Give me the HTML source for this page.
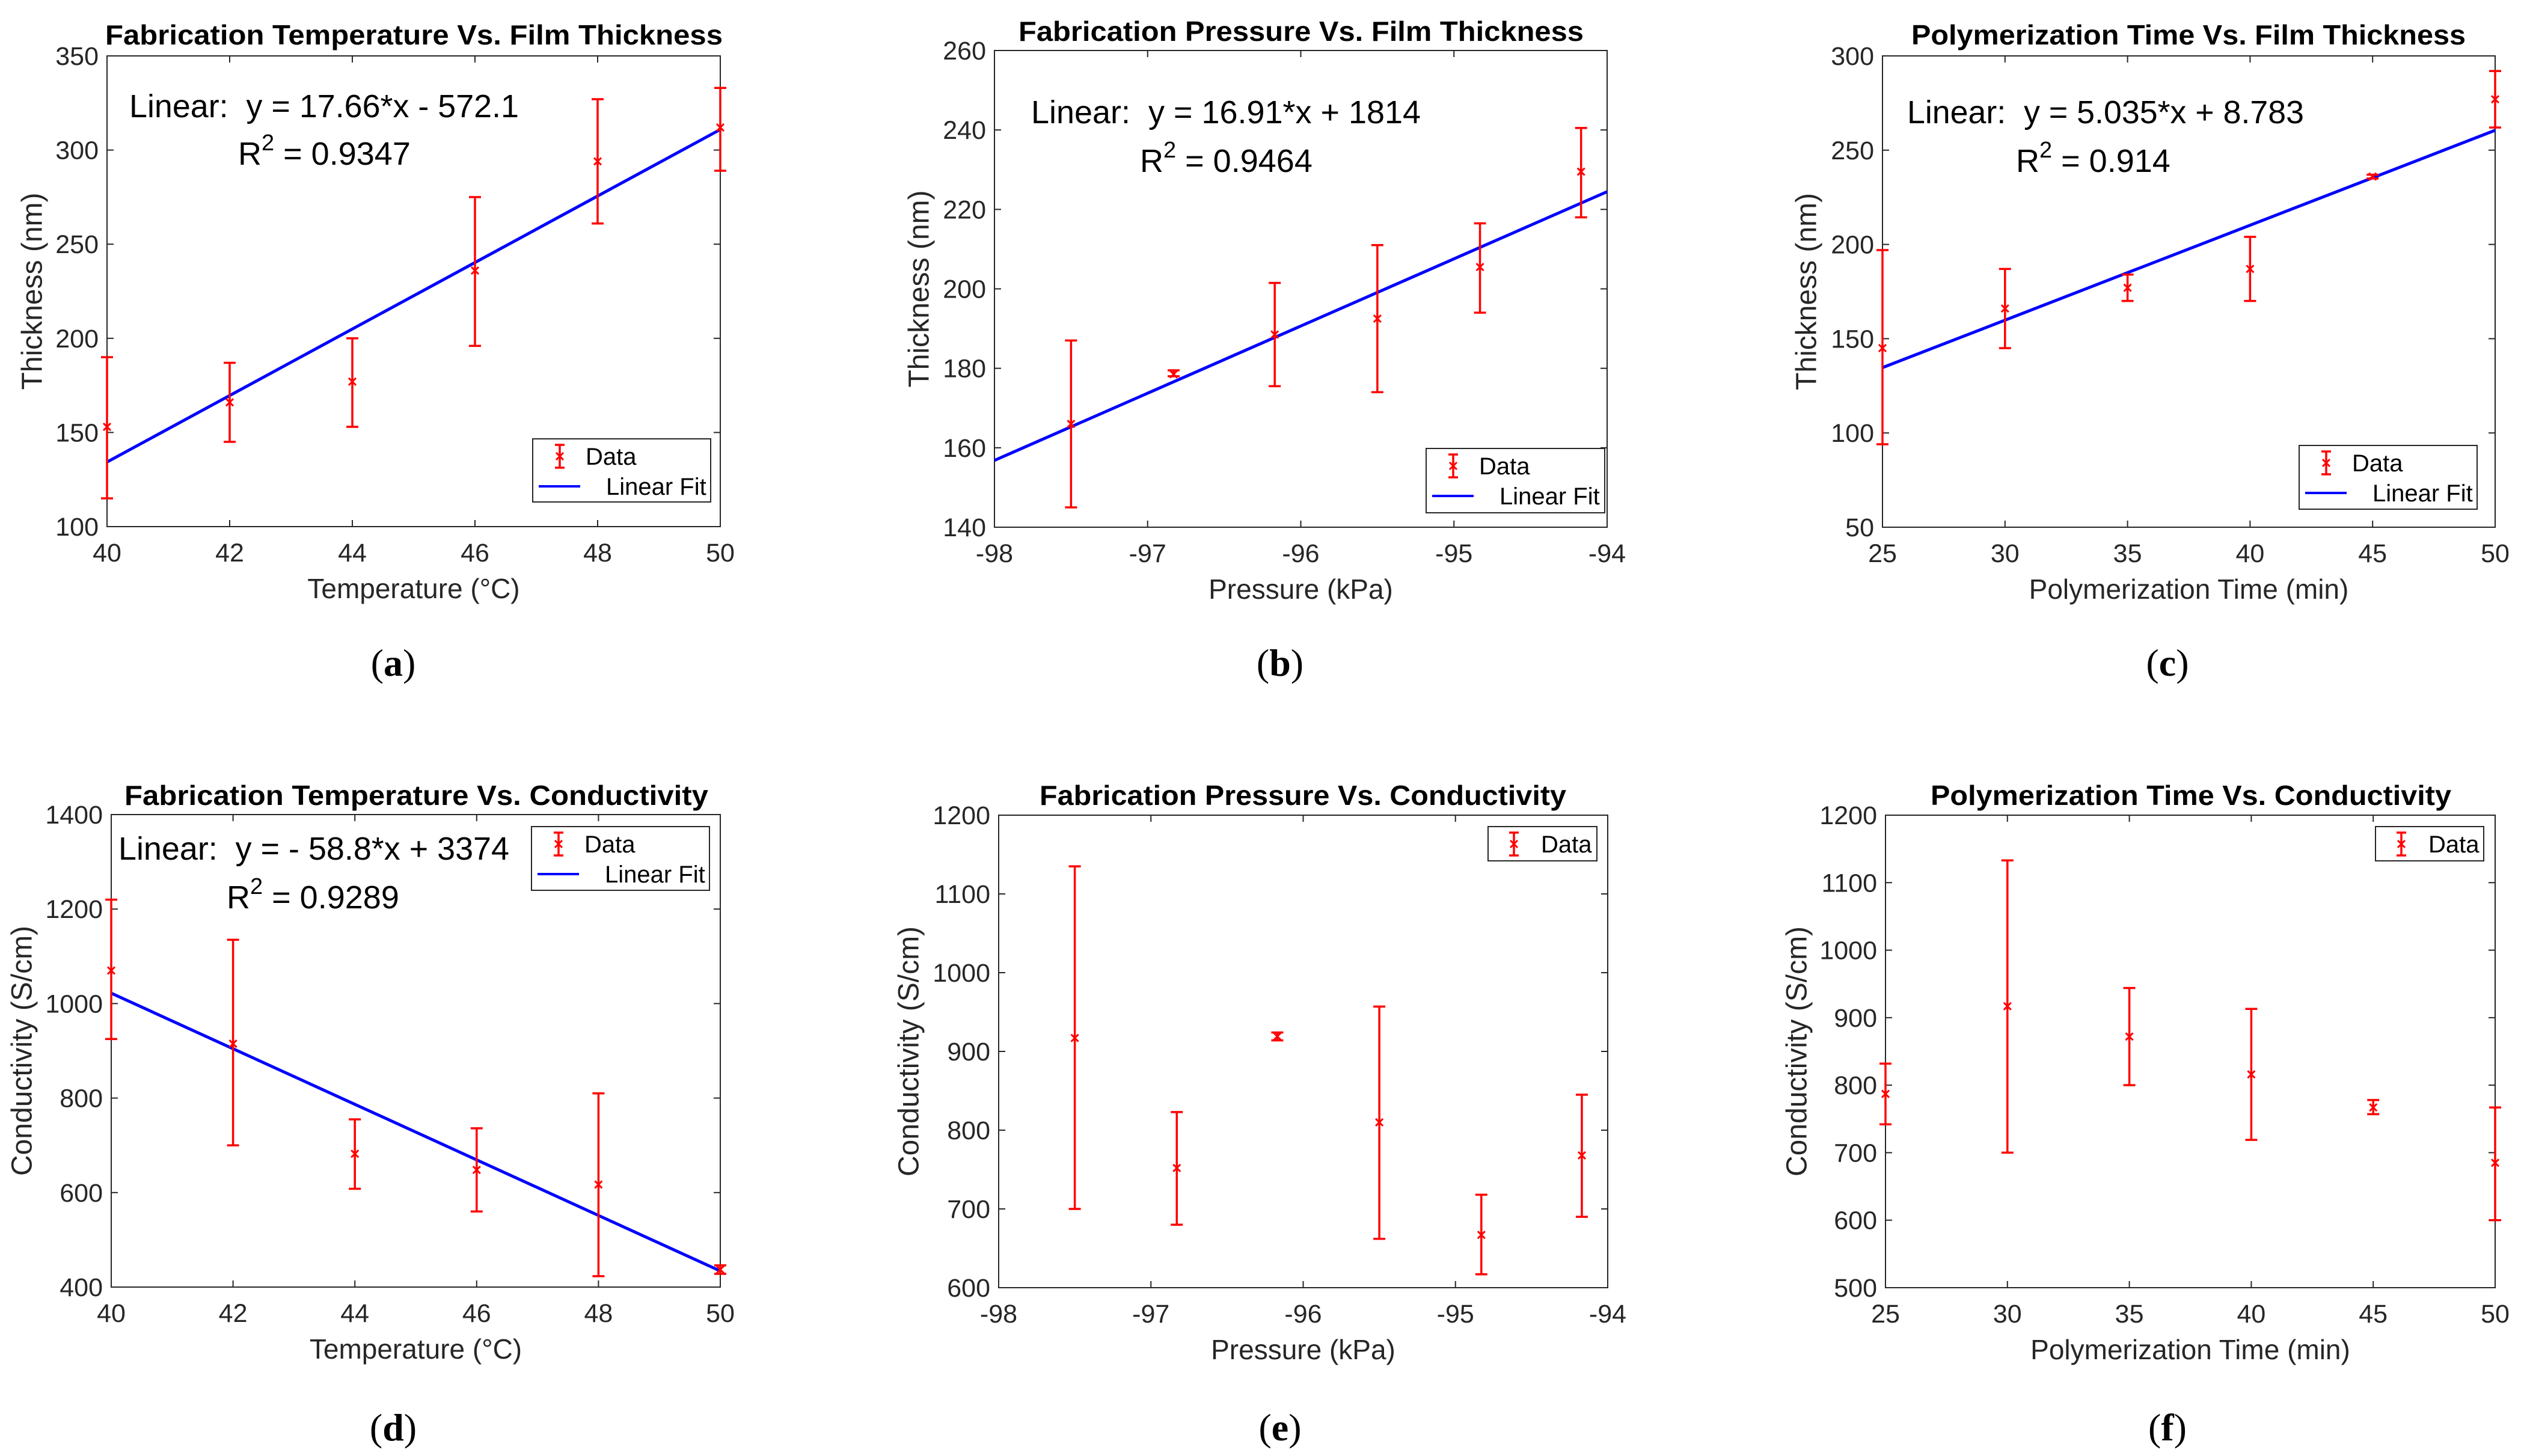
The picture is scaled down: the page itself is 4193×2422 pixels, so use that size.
<!DOCTYPE html>
<html><head><meta charset="utf-8">
<style>
html,body{margin:0;padding:0;background:#fff;}
svg{display:block;font-family:"Liberation Sans",Arial,sans-serif;}
.pre{white-space:pre;}
</style></head>
<body>
<svg id="fig" width="4193" height="2422" viewBox="0 0 4193 2422" xmlns="http://www.w3.org/2000/svg"></svg>
<script>
// ---- data ----
const tempX = [40, 42, 44, 46, 48, 50];
const presX = [-97.5, -96.83, -96.17, -95.5, -94.83, -94.17];
const timeX = [25, 30, 35, 40, 45, 50];

const thickTemp = [153, 166, 177, 236, 294, 312];
const thickTempLo = [115, 145, 153, 196, 261, 289];
const thickTempHi = [190, 187, 200, 275, 327, 333];

const thickPres = [166, 178.5, 188.5, 192.5, 205.5, 229.5];
const thickPresLo = [145, 178, 175.5, 174, 194, 218];
const thickPresHi = [187, 179.5, 201.5, 211, 216.5, 240.5];

const thickTime = [145, 166, 177, 187, 236, 277];
const thickTimeLo = [94, 145, 170, 170, 235, 262];
const thickTimeHi = [197, 187, 184, 204, 237, 292];

const condTemp = [1070, 915, 682, 648, 617, 437];
const condTempLo = [925, 700, 608, 560, 423, 428];
const condTempHi = [1220, 1135, 755, 736, 810, 446];

const condPres = [917, 752, 919, 810, 667, 768];
const condPresLo = [700, 680, 914, 662, 617, 690];
const condPresHi = [1135, 823, 924, 957, 718, 845];

const condTime = [787, 917, 872, 816, 767, 685];
const condTimeLo = [742, 700, 800, 719, 757, 600];
const condTimeHi = [832, 1133, 944, 913, 778, 767];

const fitA = [17.66, -572.1];
const fitB = [16.91, 1814];
const fitC = [5.035, 8.783];
const fitD = [-58.8, 3374];

const ticksTempX = [40, 42, 44, 46, 48, 50];
const ticksPresX = [-98, -97, -96, -95, -94];
const ticksTimeX = [25, 30, 35, 40, 45, 50];
const ticksA = [100, 150, 200, 250, 300, 350];
const ticksB = [140, 160, 180, 200, 220, 240, 260];
const ticksC = [50, 100, 150, 200, 250, 300];
const ticksD = [400, 600, 800, 1000, 1200, 1400];
const ticksE = [600, 700, 800, 900, 1000, 1100, 1200];
const ticksF = [500, 600, 700, 800, 900, 1000, 1100, 1200];

const NS = "http://www.w3.org/2000/svg";
const svg = document.getElementById('fig');
function mk(tag, attrs, parent, text) {
  const e = document.createElementNS(NS, tag);
  for (const k in attrs) e.setAttribute(k, attrs[k]);
  if (text !== undefined) e.textContent = text;
  (parent || svg).appendChild(e);
  return e;
}

function panel(c) {
  const g = mk('g', {});
  
  
  const L = c.box[0], R = c.box[1], T = c.box[2], B = c.box[3];
  const sx = v => L + (v - c.xr[0]) / (c.xr[1] - c.xr[0]) * (R - L);
  const sy = v => B - (v - c.yr[0]) / (c.yr[1] - c.yr[0]) * (B - T);
  const box = mk('rect', {x: L, y: T, width: R - L, height: B - T, fill: 'none', stroke: '#262626', 'stroke-width': 2}, g);
  
  
  c.xt.forEach(v => {
    const x = sx(v);
    mk('line', {x1: x, y1: B, x2: x, y2: B - 11, stroke: '#262626', 'stroke-width': 2}, g);
    mk('line', {x1: x, y1: T, x2: x, y2: T + 11, stroke: '#262626', 'stroke-width': 2}, g);
    const t = mk('text', {x: x, y: B + 58, 'font-size': 43, fill: '#262626', 'text-anchor': 'middle'}, g, String(v));
    
    
  });
  c.yt.forEach(v => {
    const y = sy(v);
    mk('line', {x1: L, y1: y, x2: L + 11, y2: y, stroke: '#262626', 'stroke-width': 2}, g);
    mk('line', {x1: R, y1: y, x2: R - 11, y2: y, stroke: '#262626', 'stroke-width': 2}, g);
    const t = mk('text', {x: L - 14, y: y + 15, 'font-size': 43, fill: '#262626', 'text-anchor': 'end'}, g, String(v));
    
    
  });
  const ti = mk('text', {x: c.title[1], y: c.title[3], 'font-size': 46, 'font-weight': 'bold', fill: '#000', textLength: c.title[2] - c.title[1], lengthAdjust: 'spacingAndGlyphs'}, g, c.title[0]);
  
  
  const xl = mk('text', {x: (L + R) / 2, y: B + 119, 'font-size': 46, fill: '#262626', 'text-anchor': 'middle'}, g, c.xlab);
  
  
  const yc = (T + B) / 2, yx = L - c.ylOff;
  const yl = mk('text', {x: yx, y: yc, 'font-size': 48, fill: '#262626', 'text-anchor': 'middle', 'dominant-baseline': 'central', transform: `rotate(-90 ${yx} ${yc})`}, g, c.ylab);
  
  
  if (c.fit) {
    const fl = mk('line', {x1: sx(c.xr[0]), y1: sy(c.fit[0] * c.xr[0] + c.fit[1]), x2: sx(c.xr[1]), y2: sy(c.fit[0] * c.xr[1] + c.fit[1]), stroke: '#0000ff', 'stroke-width': 5}, g);
    
    
  }
  c.x.forEach((xv, i) => {
    const eg = mk('g', {stroke: '#ff0000', 'stroke-width': 3.5, fill: 'none'}, g);
    
    
    const x = sx(xv), y = sy(c.y[i]), lo = sy(c.lo[i]), hi = sy(c.hi[i]);
    mk('line', {x1: x, y1: lo, x2: x, y2: hi}, eg);
    mk('line', {x1: x - 10, y1: lo, x2: x + 10, y2: lo}, eg);
    mk('line', {x1: x - 10, y1: hi, x2: x + 10, y2: hi}, eg);
    mk('path', {d: `M${x - 6} ${y - 6}L${x + 6} ${y + 6}M${x - 6} ${y + 6}L${x + 6} ${y - 6}`, 'stroke-width': 3}, eg);
  });
  if (c.eq) {
    const e1 = mk('text', {x: c.eq[1], y: c.eq[2], 'font-size': 54, fill: '#000', class: 'pre', textLength: c.eq[3], lengthAdjust: 'spacingAndGlyphs'}, g, c.eq[0]);
    
    
    const e2 = mk('text', {x: c.r2[1], y: c.r2[2], 'font-size': 54, fill: '#000'}, g);
    
    
    mk('tspan', {}, e2, 'R');
    mk('tspan', {dy: -24, 'font-size': 38}, e2, '2');
    mk('tspan', {dy: 24}, e2, ' = ' + c.r2[0]);
  }
  const lg = c.leg;
  const lgG = mk('g', {}, g);
  
  
  mk('rect', {x: lg[0], y: lg[1], width: lg[2], height: lg[3], fill: '#fff', stroke: '#262626', 'stroke-width': 2}, lgG);
  const ey = lg[1] + 29, ex = lg[0] + (c.fit ? 45 : 43);
  const le = mk('g', {stroke: '#ff0000', 'stroke-width': 3.5}, lgG);
  
  
  mk('line', {x1: ex, y1: ey - 19, x2: ex, y2: ey + 19}, le);
  mk('line', {x1: ex - 8, y1: ey - 19, x2: ex + 8, y2: ey - 19}, le);
  mk('line', {x1: ex - 8, y1: ey + 19, x2: ex + 8, y2: ey + 19}, le);
  mk('path', {d: `M${ex - 6} ${ey - 6}L${ex + 6} ${ey + 6}M${ex - 6} ${ey + 6}L${ex + 6} ${ey - 6}`, 'stroke-width': 3}, le);
  const dt = mk('text', {x: lg[0] + 88, y: ey + 14, 'font-size': 40, fill: '#000'}, lgG, 'Data');
  
  
  if (c.fit) {
    const ly = lg[1] + 79;
    const ll = mk('line', {x1: lg[0] + 10, y1: ly, x2: lg[0] + 79, y2: ly, stroke: '#0000ff', 'stroke-width': 4}, lgG);
    
    
    const lt = mk('text', {x: lg[0] + 122, y: ly + 14, 'font-size': 40, fill: '#000'}, lgG, 'Linear Fit');
    
    
  }
  const pl = mk('text', {x: c.pl[1], y: c.pl[2], 'font-size': 64, 'text-anchor': 'middle', fill: '#000', 'font-family': '"Liberation Serif",serif'}, g);
  
  
  mk('tspan', {}, pl, '(');
  mk('tspan', {'font-weight': 'bold'}, pl, c.pl[0]);
  mk('tspan', {}, pl, ')');
}

panel({id: 'a', box: [178, 1198, 93, 876], xr: [40, 50], yr: [100, 350], xt: ticksTempX, yt: ticksA,
  x: tempX, y: thickTemp, lo: thickTempLo, hi: thickTempHi, fit: fitA,
  title: ['Fabrication Temperature Vs. Film Thickness', 175, 1202, 74],
  xlab: 'Temperature (°C)', ylab: 'Thickness (nm)', ylOff: 124,
  eq: ['Linear:  y = 17.66*x - 572.1', 215, 195, 648], r2: ['0.9347', 396, 274],
  leg: [886, 730, 296, 105], pl: ['a', 654, 1124]});
panel({id: 'b', box: [1654, 2673, 84, 877], xr: [-98, -94], yr: [140, 260], xt: ticksPresX, yt: ticksB,
  x: presX, y: thickPres, lo: thickPresLo, hi: thickPresHi, fit: fitB,
  title: ['Fabrication Pressure Vs. Film Thickness', 1694, 2634, 68],
  xlab: 'Pressure (kPa)', ylab: 'Thickness (nm)', ylOff: 125,
  eq: ['Linear:  y = 16.91*x + 1814', 1715, 205, 648], r2: ['0.9464', 1896, 286],
  leg: [2372, 746, 297, 107], pl: ['b', 2129, 1124]});
panel({id: 'c', box: [3131, 4150, 93, 877], xr: [25, 50], yr: [50, 300], xt: ticksTimeX, yt: ticksC,
  x: timeX, y: thickTime, lo: thickTimeLo, hi: thickTimeHi, fit: fitC,
  title: ['Polymerization Time Vs. Film Thickness', 3179, 4101, 74],
  xlab: 'Polymerization Time (min)', ylab: 'Thickness (nm)', ylOff: 126,
  eq: ['Linear:  y = 5.035*x + 8.783', 3172, 205, 660], r2: ['0.914', 3353, 286],
  leg: [3824, 741, 296, 106], pl: ['c', 3605, 1124]});
panel({id: 'd', box: [185, 1198, 1355, 2141], xr: [40, 50], yr: [400, 1400], xt: ticksTempX, yt: ticksD,
  x: tempX, y: condTemp, lo: condTempLo, hi: condTempHi, fit: fitD,
  title: ['Fabrication Temperature Vs. Conductivity', 207, 1178, 1339],
  xlab: 'Temperature (°C)', ylab: 'Conductivity (S/cm)', ylOff: 148,
  eq: ['Linear:  y = - 58.8*x + 3374', 197, 1430, 650], r2: ['0.9289', 377, 1511],
  leg: [884, 1375, 296, 106], pl: ['d', 654, 2396]});
panel({id: 'e', box: [1661, 2674, 1356, 2142], xr: [-98, -94], yr: [600, 1200], xt: ticksPresX, yt: ticksE,
  x: presX, y: condPres, lo: condPresLo, hi: condPresHi, fit: null,
  title: ['Fabrication Pressure Vs. Conductivity', 1729, 2605, 1339],
  xlab: 'Pressure (kPa)', ylab: 'Conductivity (S/cm)', ylOff: 149,
  leg: [2475, 1375, 181, 57], pl: ['e', 2129, 2396]});
panel({id: 'f', box: [3136, 4150, 1356, 2142], xr: [25, 50], yr: [500, 1200], xt: ticksTimeX, yt: ticksF,
  x: timeX, y: condTime, lo: condTimeLo, hi: condTimeHi, fit: null,
  title: ['Polymerization Time Vs. Conductivity', 3211, 4077, 1339],
  xlab: 'Polymerization Time (min)', ylab: 'Conductivity (S/cm)', ylOff: 147,
  leg: [3951, 1375, 180, 57], pl: ['f', 3605, 2396]});
</script>
</body></html>
